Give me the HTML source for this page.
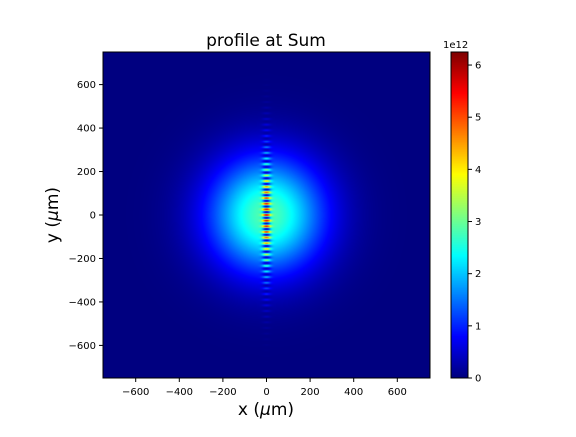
<!DOCTYPE html>
<html><head><meta charset="utf-8"><style>
body{margin:0;background:#fff;width:576px;height:432px;overflow:hidden;font-family:"Liberation Sans",sans-serif}
svg text{font-family:"DejaVu Sans","Liberation Sans",sans-serif}
</style></head><body>
<svg id="svg" width="576" height="432" xmlns="http://www.w3.org/2000/svg">
<rect width="576" height="432" fill="#fff"/>
<text x="266" y="46" font-size="17" text-anchor="middle">profile at Sum</text>
<foreignObject x="103" y="52" width="327" height="326"><canvas xmlns="http://www.w3.org/1999/xhtml" id="cv" width="327" height="326" style="display:block"></canvas></foreignObject>
<rect x="103" y="52" width="327" height="326" fill="none" stroke="#000" stroke-width="1"/>
<g id="ticks"></g>
<text x="266" y="415" font-size="17" text-anchor="middle">x (<tspan font-style="italic">μ</tspan>m)</text>
<text transform="translate(58,215) rotate(-90)" font-size="17" text-anchor="middle">y (<tspan font-style="italic">μ</tspan>m)</text>
<foreignObject x="451" y="52" width="17" height="326"><canvas xmlns="http://www.w3.org/1999/xhtml" id="cb" width="17" height="326" style="display:block"></canvas></foreignObject>
<rect x="451" y="52" width="17" height="326" fill="none" stroke="#000" stroke-width="1"/>
<text x="443" y="48" font-size="10">1e12</text>
</svg>
<script>
const xTicks=[-600,-400,-200,0,200,400,600];
const yTicks=[-600,-400,-200,0,200,400,600];
const cbTicks=[0,1,2,3,4,5,6];
const cbMax=[6.25];
const beamPeak=[2.85];   // 1e12, broad gaussian peak
const beamSigma=[185];   // um
const stripeAmp=[3.0];   // 1e12
const stripeSigmaX=[13]; // um
const stripeSigmaY=[200];// um
const fringePeriod=[26]; // um
const dipSigmaY=[320];   // um
const extent=[-750,750];
const X0=103,X1=430,Y0=52,Y1=378;
const sx=v=>X0+(v-extent[0])/(extent[1]-extent[0])*(X1-X0);
const sy=v=>Y1-(v-extent[0])/(extent[1]-extent[0])*(Y1-Y0);
const sc=v=>Y1-v/cbMax[0]*(Y1-Y0);
const NS="http://www.w3.org/2000/svg";
const g=document.getElementById('ticks');
function add(tag,attrs,txt){const e=document.createElementNS(NS,tag);for(const k in attrs)e.setAttribute(k,attrs[k]);if(txt!==undefined)e.textContent=txt;g.appendChild(e);return e;}
xTicks.forEach(t=>{const x=sx(t);
 const l=add('line',{x1:x,x2:x,y1:Y1,y2:Y1+4,stroke:'#000'});
 
 
 const s=add('text',{x:x,y:Y1+17,'font-size':10,'text-anchor':'middle'},t<0?'\u2212'+(-t):t);
 
 });
yTicks.forEach(t=>{const y=sy(t);
 const l=add('line',{x1:X0-4,x2:X0,y1:y,y2:y,stroke:'#000'});
 
 
 const s=add('text',{x:X0-7,y:y+3.5,'font-size':10,'text-anchor':'end'},t<0?'\u2212'+(-t):t);
 
 });
cbTicks.forEach(t=>{const y=sc(t);
 const l=add('line',{x1:468,x2:472,y1:y,y2:y,stroke:'#000'});
 
 
 const s=add('text',{x:475,y:y+3.5,'font-size':10},t);
 
 });
function jet(v){v=Math.max(0,Math.min(1,v));
 const f=c=>Math.max(0,Math.min(1,c));
 const r=f(1.5-Math.abs(4*v-3)),gg=f(1.5-Math.abs(4*v-2)),b=f(1.5-Math.abs(4*v-1));
 return [r*255,gg*255,b*255];}
function val(x,y){
 const r2=x*x+y*y;
 const base=beamPeak[0]*Math.exp(-r2/(2*beamSigma[0]*beamSigma[0]));
 const gx=Math.exp(-x*x/(2*stripeSigmaX[0]**2));
 const env=stripeAmp[0]*gx*Math.exp(-y*y/(2*stripeSigmaY[0]**2));
 const c=Math.cos(2*Math.PI*y/fringePeriod[0]);
 const dip=0.95*gx*Math.exp(-y*y/(2*dipSigmaY[0]**2));
 return Math.max(0,base*(1-dip*(c<0?-c:0))+env*(c>0?c:0));}
const cv=document.getElementById('cv'),ctx=cv.getContext('2d');
const W=cv.width,H=cv.height,img=ctx.createImageData(W,H);
for(let j=0;j<H;j++)for(let i=0;i<W;i++){
 const x=extent[0]+(i+0.5)/W*(extent[1]-extent[0]);
 const y=extent[1]-(j+0.5)/H*(extent[1]-extent[0]);
 const c=jet(val(x,y)/cbMax[0]);const k=(j*W+i)*4;
 img.data[k]=c[0];img.data[k+1]=c[1];img.data[k+2]=c[2];img.data[k+3]=255;}
ctx.putImageData(img,0,0);
const cb=document.getElementById('cb'),cx=cb.getContext('2d');
for(let j=0;j<cb.height;j++){const c=jet(1-j/(cb.height-1));cx.fillStyle=`rgb(${c[0]|0},${c[1]|0},${c[2]|0})`;cx.fillRect(0,j,cb.width,1);}
</script>
</body></html>
